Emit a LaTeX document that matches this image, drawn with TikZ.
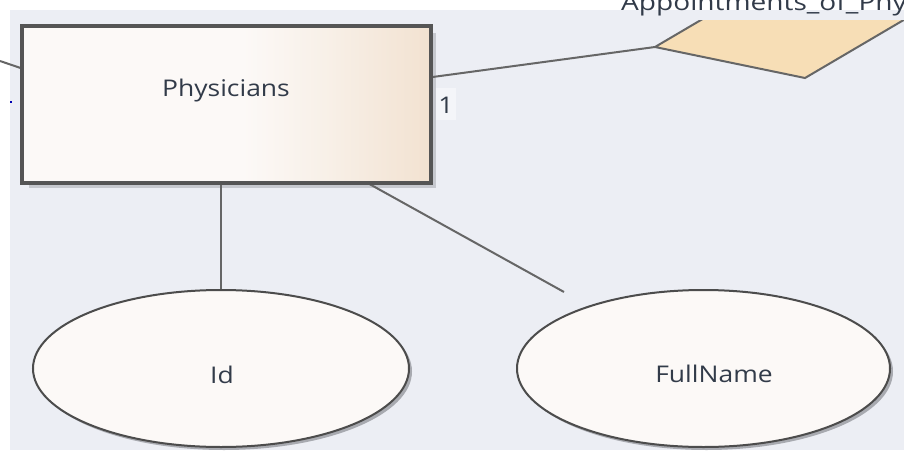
\documentclass[tikz,border=0pt]{standalone}
\usepackage{fontspec}
\usepackage{graphicx}
\setmainfont{Open Sans}
\usetikzlibrary{shapes.geometric,shadows}

\definecolor{canvas}{HTML}{ECEEF4}
\definecolor{ink}{HTML}{323B49}
\definecolor{edge}{HTML}{666666}
\definecolor{border}{HTML}{555555}
\definecolor{boxlight}{HTML}{FCF9F7}
\definecolor{boxmid}{HTML}{F8F0E8}
\definecolor{boxwarm}{HTML}{F2E2D1}
\definecolor{relfill}{HTML}{F7DEB6}
\definecolor{attrfill}{HTML}{FCF9F7}
\definecolor{boxshadow}{HTML}{C6C8CE}
\definecolor{attrshadow}{HTML}{A8AAB0}
\definecolor{tagbg}{HTML}{F4F5F9}

% entity fill: plain on the left half, warming towards the right edge
\pgfdeclarehorizontalshading{entityshade}{100bp}{color(0bp)=(boxlight); color(52bp)=(boxlight); color(62bp)=(boxmid); color(75bp)=(boxwarm); color(100bp)=(boxwarm)}

\newcommand{\wtext}[1]{\scalebox{1.15}[1]{#1}}

\tikzset{
  lbl/.style={font=\fontsize{23}{27}\selectfont, text=ink, inner sep=0pt},
  entitybox/.style={draw=border, line width=2.6pt, shading=entityshade,
    minimum width=407pt, minimum height=155pt, inner sep=0pt,
    drop shadow={shadow xshift=6pt, shadow yshift=-6pt, fill=boxshadow, opacity=1}},
  attrnode/.style={ellipse, draw=black!70, line width=2pt, fill=attrfill, inner sep=0pt,
    minimum height=157pt,
    drop shadow={shadow xshift=3pt, shadow yshift=-3pt, fill=attrshadow, opacity=1}},
  conn/.style={draw=edge, line width=2pt},
  relshape/.style={draw=edge, line width=2pt, fill=relfill, line join=miter},
}

\begin{document}
\begin{tikzpicture}[x=1pt,y=-1pt]
  \useasboundingbox (0,0) rectangle (904,452);
  \clip (0,0) rectangle (904,452);

  % page and drawing area
  \fill[white] (0,0) rectangle (904,452);
  \fill[canvas] (10,10) rectangle (904,450);

  % relationship diamond, running off the top right
  \coordinate (dL) at (655,47);
  \coordinate (dB) at (805,78);
  \coordinate (dR) at (953,-9);
  \coordinate (dT) at (803,-40);
  \path[relshape] (dL) -- (dB) -- (dR) -- (dT) -- cycle;

  % label strip of the relationship
  \fill[canvas] (600,10) rectangle (904,20);
  \fill[white] (580,0) rectangle (904,10);
  \node[lbl, anchor=base west] (rellbl) at (621,11) {\scalebox{1.22}[1]{Appointments\_of\_Physicians}};

  % entity
  \node[entitybox] (phys) at (226.5,104.5) {};
  \node[lbl, anchor=base] (physlbl) at (226,96) {\wtext{Physicians}};

  % attributes
  \node[attrnode, minimum width=376pt] (idell) at (221,368.5) {};
  \node[lbl, anchor=base] (idlbl) at (222,383) {\wtext{Id}};
  \node[attrnode, minimum width=373pt] (fnell) at (703.5,368.5) {};
  \node[lbl, anchor=base] (fnlbl) at (714,382) {\wtext{FullName}};

  % connectors
  \coordinate (leftend) at (0,61);
  \coordinate (fnend) at (564,292);
  \draw[conn] (leftend) -- (phys.170);
  \draw[conn] (dL) -- (phys);
  \draw[conn] (idell.north) -- (idell.north |- phys.south);
  \draw[conn] (phys) -- (fnend);

  % re-draw the entity border over the connector ends
  \draw[border, line width=2.6pt] (phys.south west) rectangle (phys.north east);

  % cardinality tag
  \fill[tagbg] (436,88) rectangle (456,120);
  \node[lbl, anchor=base] (card) at (446,113) {\wtext{1}};

  % small stray mark on the left margin
  \fill[blue!70!black] (10,101) rectangle (12,102.5);
\end{tikzpicture}
\end{document}
